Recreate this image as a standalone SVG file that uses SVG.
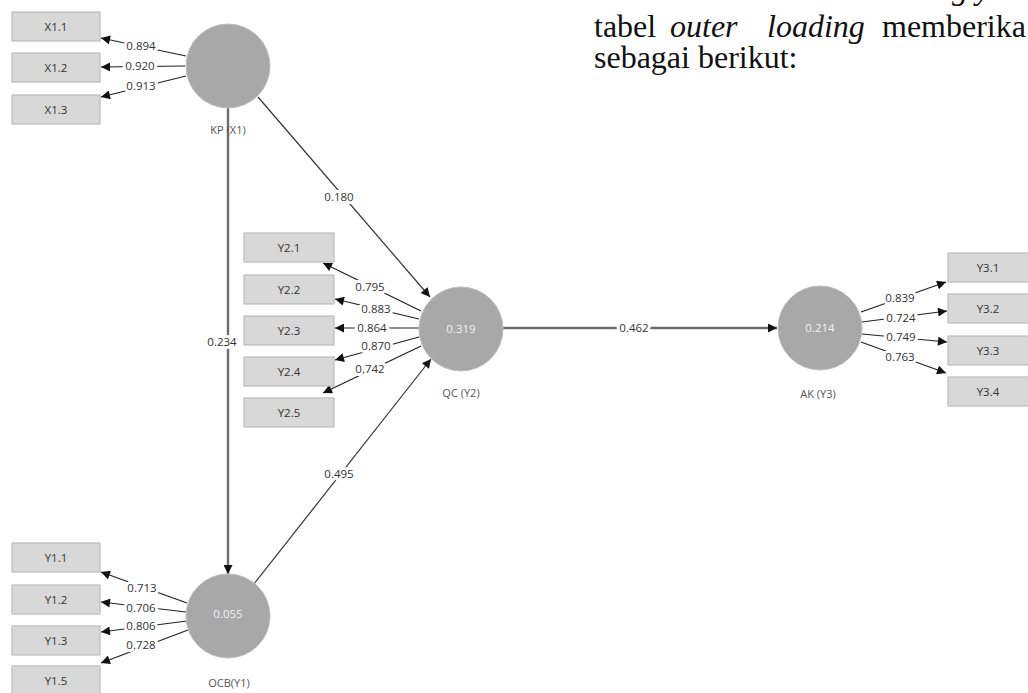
<svg xmlns="http://www.w3.org/2000/svg" width="1028" height="693" viewBox="0 0 1028 693">
<defs>
<marker id="ah" viewBox="0 0 10 10" refX="10" refY="5" markerWidth="10" markerHeight="9" markerUnits="userSpaceOnUse" orient="auto">
<path d="M0,0 L10,5 L0,10 z" fill="#111"/>
</marker>
<style>
.box{fill:#d8d8d8;stroke:#bcbcbc;stroke-width:1.2}
.bt{font-family:"Open Sans","Noto Sans",sans-serif;font-size:11.5px;fill:#333;text-anchor:middle}
.lv{fill:#a8a8a8;stroke:#bdbdbd;stroke-width:1}
.lvt{font-family:"Open Sans","Noto Sans",sans-serif;font-size:11.5px;fill:#f2f2f2;text-anchor:middle}
.nm{font-family:"Open Sans","Noto Sans",sans-serif;font-size:11px;fill:#555;text-anchor:middle}
.ld{stroke:#222;stroke-width:1.2;fill:none;marker-end:url(#ah)}
.pth{stroke:#333;stroke-width:1.2;fill:none;marker-end:url(#ah)}
.pthk{stroke:#6e6e6e;stroke-width:2.4;fill:none;marker-end:url(#ah)}
.lb{font-family:"Open Sans","Noto Sans",sans-serif;font-size:11.5px;fill:#333;text-anchor:middle;stroke:#fff;stroke-width:6px;paint-order:stroke;stroke-linejoin:round}
.doc{font-family:"Liberation Serif","Times New Roman",serif;font-size:32px;fill:#111}
</style>
</defs>
<rect width="1028" height="693" fill="#fff"/>

<g id="connectors">
<line class="pth" x1="258" y1="97" x2="430" y2="297"/>
<line class="pthk" x1="228" y1="108" x2="228" y2="574"/>
<line class="pth" x1="254" y1="584" x2="431" y2="359"/>
<line class="pthk" x1="503" y1="328" x2="777" y2="328"/>
<text class="lb" x="339" y="201">0.180</text>
<text class="lb" x="222" y="346">0.234</text>
<text class="lb" x="339" y="478">0.495</text>
<text class="lb" x="634" y="332">0.462</text>
<line class="ld" x1="186" y1="56" x2="101" y2="38"/>
<line class="ld" x1="185" y1="66" x2="101" y2="67"/>
<line class="ld" x1="186" y1="76" x2="101" y2="97"/>
<text class="lb" x="141" y="50">0.894</text>
<text class="lb" x="140" y="70">0.920</text>
<text class="lb" x="141" y="90">0.913</text>
<line class="ld" x1="421" y1="311" x2="323" y2="263"/>
<line class="ld" x1="419" y1="319" x2="335" y2="299"/>
<line class="ld" x1="419" y1="328" x2="335" y2="328"/>
<line class="ld" x1="419" y1="337" x2="335" y2="360"/>
<line class="ld" x1="421" y1="346" x2="323" y2="393"/>
<text class="lb" x="370" y="291">0.795</text>
<text class="lb" x="376" y="313">0.883</text>
<text class="lb" x="372" y="332">0.864</text>
<text class="lb" x="376" y="350">0.870</text>
<text class="lb" x="370" y="373">0.742</text>
<line class="ld" x1="861" y1="312" x2="946" y2="282"/>
<line class="ld" x1="862" y1="322" x2="947" y2="311"/>
<line class="ld" x1="862" y1="334" x2="947" y2="342"/>
<line class="ld" x1="861" y1="342" x2="946" y2="373"/>
<text class="lb" x="900" y="302">0.839</text>
<text class="lb" x="901" y="322">0.724</text>
<text class="lb" x="901" y="341">0.749</text>
<text class="lb" x="900" y="361">0.763</text>
<line class="ld" x1="187" y1="603" x2="101" y2="572"/>
<line class="ld" x1="186" y1="612" x2="101" y2="602"/>
<line class="ld" x1="187" y1="621" x2="101" y2="632"/>
<line class="ld" x1="188" y1="630" x2="101" y2="663"/>
<text class="lb" x="142" y="592">0.713</text>
<text class="lb" x="141" y="612">0.706</text>
<text class="lb" x="141" y="630">0.806</text>
<text class="lb" x="141" y="649">0.728</text>
</g>

<g id="KP">
<circle class="lv" cx="228" cy="66" r="42"/>
<text class="nm" x="228" y="134">KP (X1)</text>
</g>
<g id="QC">
<circle class="lv" cx="461" cy="329" r="42"/>
<text class="lvt" x="461" y="333">0.319</text>
<text class="nm" x="461" y="397">QC (Y2)</text>
</g>
<g id="AK">
<circle class="lv" cx="820" cy="328" r="42"/>
<text class="lvt" x="820" y="332">0.214</text>
<text class="nm" x="818" y="398">AK (Y3)</text>
</g>
<g id="OCB">
<circle class="lv" cx="228" cy="616" r="42"/>
<text class="lvt" x="228" y="618">0.055</text>
<text class="nm" x="229" y="687">OCB(Y1)</text>
</g>

<g id="X1.1"><rect class="box" x="12" y="12" width="88" height="29"/><text class="bt" x="56" y="30.5">X1.1</text></g>
<g id="X1.2"><rect class="box" x="12" y="53" width="88" height="29"/><text class="bt" x="56" y="71.5">X1.2</text></g>
<g id="X1.3"><rect class="box" x="12" y="95" width="88" height="29"/><text class="bt" x="56" y="113.5">X1.3</text></g>

<g id="Y2.1"><rect class="box" x="244" y="233" width="90" height="29"/><text class="bt" x="289" y="251.5">Y2.1</text></g>
<g id="Y2.2"><rect class="box" x="244" y="275" width="90" height="29"/><text class="bt" x="289" y="293.5">Y2.2</text></g>
<g id="Y2.3"><rect class="box" x="244" y="316" width="90" height="29"/><text class="bt" x="289" y="334.5">Y2.3</text></g>
<g id="Y2.4"><rect class="box" x="244" y="357" width="90" height="29"/><text class="bt" x="289" y="375.5">Y2.4</text></g>
<g id="Y2.5"><rect class="box" x="244" y="398" width="90" height="29"/><text class="bt" x="289" y="416.5">Y2.5</text></g>

<g id="Y3.1"><rect class="box" x="948" y="253" width="88" height="29"/><text class="bt" x="988" y="271.5">Y3.1</text></g>
<g id="Y3.2"><rect class="box" x="948" y="294" width="88" height="29"/><text class="bt" x="988" y="312.5">Y3.2</text></g>
<g id="Y3.3"><rect class="box" x="948" y="336" width="88" height="29"/><text class="bt" x="988" y="354.5">Y3.3</text></g>
<g id="Y3.4"><rect class="box" x="948" y="377" width="88" height="29"/><text class="bt" x="988" y="395.5">Y3.4</text></g>

<g id="Y1.1"><rect class="box" x="12" y="543" width="88" height="29"/><text class="bt" x="56" y="561.5">Y1.1</text></g>
<g id="Y1.2"><rect class="box" x="12" y="585" width="88" height="29"/><text class="bt" x="56" y="603.5">Y1.2</text></g>
<g id="Y1.3"><rect class="box" x="12" y="626" width="88" height="29"/><text class="bt" x="56" y="644.5">Y1.3</text></g>
<g id="Y1.5"><rect class="box" x="12" y="666" width="88" height="29"/><text class="bt" x="56" y="684.5">Y1.5</text></g>

<g id="doc-text">
<text class="doc"><tspan x="952" y="-1" font-style="italic">g y</tspan><tspan x="594" y="37">tabel</tspan><tspan x="670" y="37" font-style="italic">outer</tspan><tspan x="767" y="37" font-style="italic">loading</tspan><tspan x="882" y="37">memberika</tspan><tspan x="594" y="68">sebagai berikut:</tspan></text>
</g>
</svg>
